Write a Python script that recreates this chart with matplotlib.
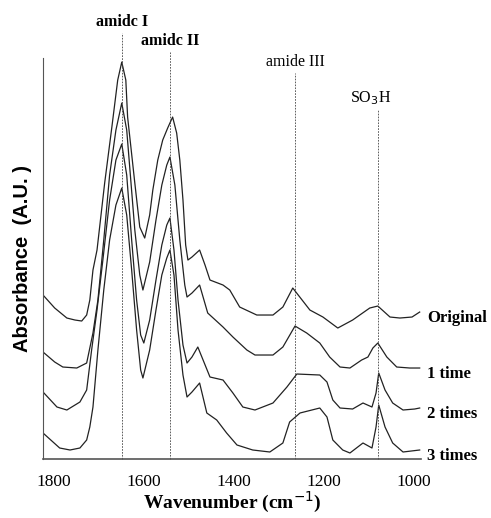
import numpy as np
import matplotlib
matplotlib.use("Agg")
import matplotlib.pyplot as plt

# spectra (wavenumber in cm-1, absorbance in arbitrary units)
wn_orig = [1824, 1798, 1771, 1753, 1738, 1727, 1720, 1713, 1704, 1687, 1671, 1658, 1649,
           1640, 1636, 1620, 1609, 1598, 1587, 1580, 1569, 1558, 1547, 1536, 1527, 1520,
           1513, 1507, 1502, 1493, 1476, 1464, 1453, 1424, 1409, 1387, 1349, 1313, 1291,
           1269, 1231, 1202, 1169, 1136, 1098, 1080, 1053, 1031, 1004, 987]
ab_orig = [1.64, 1.51, 1.41, 1.39, 1.38, 1.44, 1.59, 1.89, 2.09, 2.76, 3.32, 3.79, 3.97,
           3.79, 3.42, 2.76, 2.32, 2.21, 2.44, 2.69, 2.99, 3.19, 3.31, 3.42, 3.26, 2.99,
           2.59, 2.14, 1.99, 2.02, 2.09, 1.94, 1.79, 1.74, 1.69, 1.52, 1.44, 1.44, 1.52,
           1.71, 1.49, 1.42, 1.31, 1.39, 1.51, 1.53, 1.42, 1.41, 1.42, 1.47]

wn_1 = [1824, 1798, 1780, 1749, 1727, 1713, 1702, 1689, 1676, 1662, 1649, 1638, 1629,
        1620, 1609, 1602, 1587, 1573, 1560, 1549, 1542, 1531, 1520, 1509, 1504, 1493,
        1476, 1458, 1424, 1402, 1371, 1353, 1313, 1291, 1264, 1238, 1209, 1187, 1164,
        1142, 1116, 1102, 1091, 1080, 1060, 1038, 1009, 987]
ab_1 = [1.07, 0.97, 0.92, 0.91, 0.96, 1.26, 1.59, 2.19, 2.84, 3.29, 3.56, 3.29, 2.79,
        2.29, 1.84, 1.69, 1.97, 2.39, 2.74, 2.94, 3.02, 2.74, 2.19, 1.74, 1.62, 1.66,
        1.74, 1.46, 1.32, 1.22, 1.09, 1.04, 1.04, 1.12, 1.33, 1.26, 1.16, 1.02, 0.92,
        0.91, 0.99, 1.02, 1.11, 1.16, 1.02, 0.92, 0.91, 0.91]

wn_2 = [1824, 1793, 1771, 1742, 1727, 1716, 1704, 1691, 1676, 1662, 1649, 1638, 1627,
        1616, 1607, 1600, 1587, 1573, 1560, 1549, 1542, 1533, 1524, 1513, 1504, 1493,
        1480, 1453, 1424, 1402, 1380, 1353, 1313, 1282, 1260, 1209, 1193, 1180, 1164,
        1136, 1113, 1093, 1084, 1078, 1064, 1047, 1024, 998, 987]
ab_2 = [0.67, 0.52, 0.49, 0.57, 0.69, 1.09, 1.49, 1.99, 2.59, 2.99, 3.15, 2.84, 2.19,
        1.59, 1.24, 1.16, 1.39, 1.79, 2.14, 2.34, 2.41, 2.09, 1.59, 1.14, 0.96, 1.02,
        1.12, 0.82, 0.79, 0.66, 0.52, 0.49, 0.56, 0.72, 0.85, 0.84, 0.77, 0.59, 0.51,
        0.50, 0.56, 0.52, 0.66, 0.86, 0.69, 0.56, 0.49, 0.50, 0.51]

wn_3 = [1824, 1787, 1764, 1742, 1727, 1720, 1713, 1702, 1689, 1676, 1662, 1649, 1638,
        1627, 1616, 1607, 1602, 1587, 1573, 1560, 1549, 1542, 1533, 1524, 1513, 1504,
        1493, 1476, 1460, 1438, 1416, 1393, 1358, 1320, 1291, 1276, 1253, 1209, 1193,
        1180, 1158, 1142, 1113, 1093, 1084, 1078, 1064, 1047, 1024, 987]
ab_3 = [0.26, 0.11, 0.09, 0.11, 0.19, 0.32, 0.52, 1.09, 1.69, 2.19, 2.54, 2.71, 2.44,
        1.89, 1.29, 0.89, 0.81, 1.09, 1.49, 1.84, 2.01, 2.09, 1.84, 1.29, 0.84, 0.62,
        0.67, 0.76, 0.46, 0.39, 0.26, 0.14, 0.09, 0.07, 0.16, 0.37, 0.46, 0.51, 0.42,
        0.19, 0.09, 0.06, 0.16, 0.11, 0.32, 0.54, 0.32, 0.16, 0.07, 0.09]

series_names = ["Original", "1 time", "2 times", "3 times"]

# band assignments
band_names = ["amidc I", "amidc II", "amide III", "SO$_3$H"]
band_pos = [1649, 1542, 1264, 1080]
band_top = [4.26, 4.07, 3.86, 3.49]

serif = ["Liberation Serif", "DejaVu Serif"]

fig = plt.figure(figsize=(4.91, 5.18), dpi=100)
ax = fig.add_axes([0.0876, 0.1139, 0.7699, 0.774])

spectra = [(wn_orig, ab_orig), (wn_1, ab_1), (wn_2, ab_2), (wn_3, ab_3)]
for (x, y), name in zip(spectra, series_names):
    ax.plot(x, y, color='#222222', lw=0.9)
    ax.text(971, y[-1] - 0.06, name,
            fontsize=12, fontweight='bold', family=serif,
            ha='left', va='center', clip_on=False)

bold_band = [True, True, False, False]
for name, pos, top, b in zip(band_names, band_pos, band_top, bold_band):
    ax.plot([pos, pos], [0, top], color='#444444', lw=0.6, ls=(0, (2, 1.5)), clip_on=False)
    xt = pos if name != "SO$_3$H" else 1095
    ax.text(xt, top + 0.03, name, fontsize=11.5, family=serif,
            fontweight='bold' if b else 'normal',
            ha='center', va='bottom', clip_on=False)

ax.set_xlim(1824, 984)
ax.set_ylim(0, 4.01)
ax.set_xticks([1800, 1600, 1400, 1200, 1000])
ax.set_xticklabels(["1800", "1600", "1400", "1200", "1000"], family=serif, fontsize=12.5)
ax.set_yticks([])
ax.tick_params(axis='x', length=0, pad=11)
ax.spines['top'].set_visible(False)
ax.spines['right'].set_visible(False)
ax.spines['left'].set_color('#555555')
ax.spines['bottom'].set_color('#555555')
ax.spines['left'].set_linewidth(0.8)
ax.spines['bottom'].set_linewidth(1.2)

ax.set_xlabel("Wavenumber (cm$^{-1}$)", fontsize=14, fontweight='bold', family=serif, labelpad=0)
ax.set_ylabel("Absorbance  (A.U. )", fontsize=14.5, fontweight='bold',
              family=["Liberation Sans", "DejaVu Sans"], labelpad=8)

plt.savefig("out.png", dpi=100)
